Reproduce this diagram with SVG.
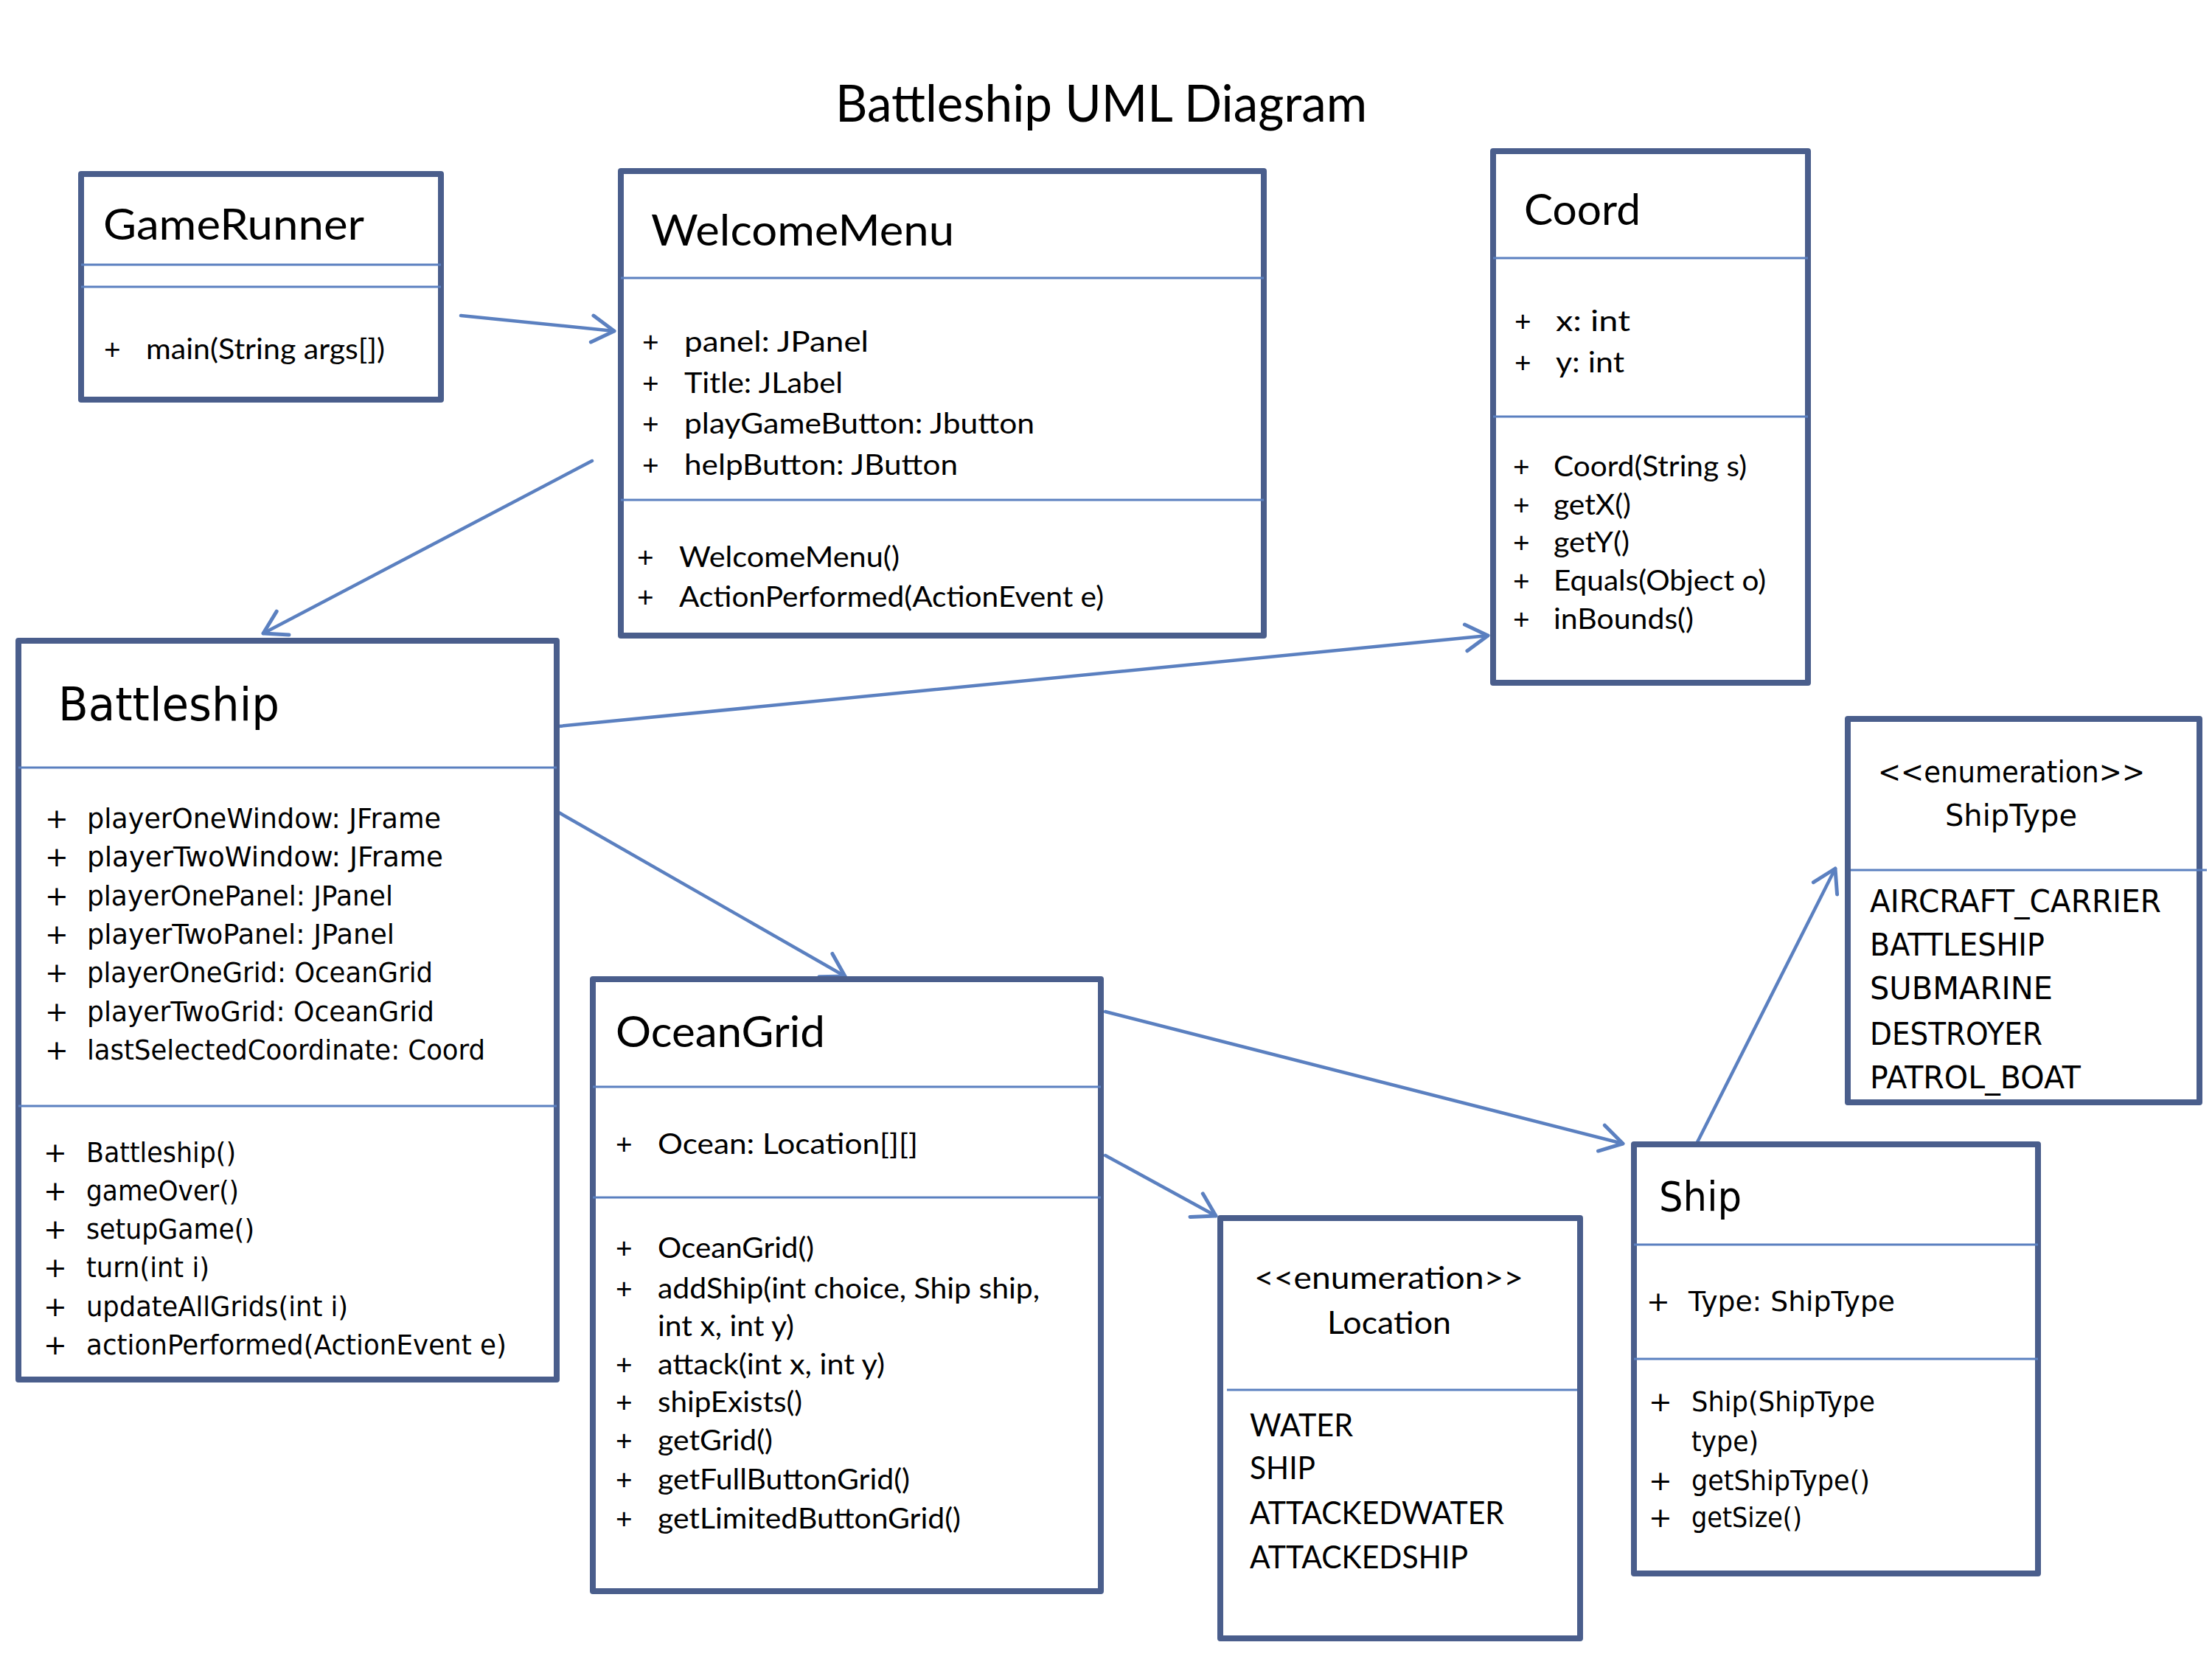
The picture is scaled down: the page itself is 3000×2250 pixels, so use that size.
<svg xmlns="http://www.w3.org/2000/svg" width="3000" height="2250" viewBox="0 0 3000 2250">
  <defs>
    <style>
      .box { fill: #ffffff; stroke: #4A5E8C; stroke-width: 8; stroke-linejoin: round; }
      .div { stroke: #5B80C0; stroke-width: 3; fill: none; }
      .conn { stroke: #5B80C0; stroke-width: 4.5; fill: none; stroke-linecap: round; marker-end: url(#arr); }
      .c { font-family: Lato, 'Open Sans', 'Liberation Sans', sans-serif; fill: #000; font-size: 39px; }
      .ct { font-family: Lato, 'Open Sans', 'Liberation Sans', sans-serif; fill: #000; font-size: 58px; }
      .ce { font-family: Lato, 'Open Sans', 'Liberation Sans', sans-serif; fill: #000; font-size: 42px; }
      .v { font-family: 'DejaVu Sans', 'DejaVu Sans Condensed', sans-serif; fill: #000; font-size: 38px; }
      .vt { font-family: 'DejaVu Sans', 'DejaVu Sans Condensed', sans-serif; fill: #000; font-size: 63px; }
      .ve { font-family: 'DejaVu Sans', 'DejaVu Sans Condensed', sans-serif; fill: #000; font-size: 43px; }
    </style>
    <marker id="arr" markerUnits="userSpaceOnUse" markerWidth="80" markerHeight="80" refX="40" refY="40" orient="auto" overflow="visible">
      <path d="M10,22 L40,40 L10,58" fill="none" stroke="#5B80C0" stroke-width="5" stroke-linecap="round" stroke-linejoin="round"/>
    </marker>
  </defs>

  <rect x="0" y="0" width="3000" height="2250" fill="#ffffff"/>

  <text id="diagram-title" x="1133" y="165" font-family="Lato, 'Open Sans', sans-serif" font-size="70" textLength="721" lengthAdjust="spacingAndGlyphs">Battleship UML Diagram</text>

  <g id="connectors">
    <line class="conn" x1="625" y1="428" x2="833" y2="449"/>
    <line class="conn" x1="803" y1="625" x2="357" y2="859"/>
    <line class="conn" x1="758" y1="985" x2="2018" y2="862"/>
    <line class="conn" x1="758" y1="1102" x2="1146" y2="1324"/>
    <line class="conn" x1="1499" y1="1567" x2="1649" y2="1649"/>
    <line class="conn" x1="1499" y1="1372" x2="2201" y2="1551"/>
    <line class="conn" x1="2301" y1="1551" x2="2489" y2="1178"/>
  </g>

  <g id="GameRunner">
    <rect class="box" x="110" y="236" width="488" height="306"/>
    <line class="div" x1="110" y1="359" x2="598" y2="359"/>
    <line class="div" x1="110" y1="389" x2="598" y2="389"/>
    <text class="ct" x="140" y="325" textLength="354" lengthAdjust="spacingAndGlyphs">GameRunner</text>
    <text class="c" x="141" y="487">+</text>
    <text class="c" x="198" y="487" textLength="324" lengthAdjust="spacingAndGlyphs">main(String args[])</text>
  </g>

  <g id="WelcomeMenu">
    <rect class="box" x="842" y="232" width="872" height="630"/>
    <line class="div" x1="842" y1="377" x2="1714" y2="377"/>
    <line class="div" x1="842" y1="678" x2="1714" y2="678"/>
    <text class="ct" x="883" y="333" textLength="411" lengthAdjust="spacingAndGlyphs">WelcomeMenu</text>
    <text class="c" x="871" y="477">+</text>
    <text class="c" x="928" y="477" textLength="250" lengthAdjust="spacingAndGlyphs">panel:  JPanel</text>
    <text class="c" x="871" y="533">+</text>
    <text class="c" x="928" y="533" textLength="215" lengthAdjust="spacingAndGlyphs">Title: JLabel</text>
    <text class="c" x="871" y="588">+</text>
    <text class="c" x="928" y="588" textLength="475" lengthAdjust="spacingAndGlyphs">playGameButton: Jbutton</text>
    <text class="c" x="871" y="644">+</text>
    <text class="c" x="928" y="644" textLength="371" lengthAdjust="spacingAndGlyphs">helpButton: JButton</text>
    <text class="c" x="864" y="769">+</text>
    <text class="c" x="921" y="769" textLength="299" lengthAdjust="spacingAndGlyphs">WelcomeMenu()</text>
    <text class="c" x="864" y="823">+</text>
    <text class="c" x="921" y="823" textLength="576" lengthAdjust="spacingAndGlyphs">ActionPerformed(ActionEvent e)</text>
  </g>

  <g id="Coord">
    <rect class="box" x="2025" y="205" width="427" height="721"/>
    <line class="div" x1="2025" y1="350" x2="2452" y2="350"/>
    <line class="div" x1="2025" y1="565" x2="2452" y2="565"/>
    <text class="ct" x="2067" y="305" textLength="158" lengthAdjust="spacingAndGlyphs">Coord</text>
    <text class="c" x="2054" y="449">+</text>
    <text class="c" x="2110" y="449" textLength="101" lengthAdjust="spacingAndGlyphs">x:  int</text>
    <text class="c" x="2054" y="505">+</text>
    <text class="c" x="2110" y="505" textLength="93" lengthAdjust="spacingAndGlyphs">y: int</text>
    <text class="c" x="2052" y="646">+</text>
    <text class="c" x="2107" y="646" textLength="262" lengthAdjust="spacingAndGlyphs">Coord(String s)</text>
    <text class="c" x="2052" y="698">+</text>
    <text class="c" x="2107" y="698" textLength="105" lengthAdjust="spacingAndGlyphs">getX()</text>
    <text class="c" x="2052" y="749">+</text>
    <text class="c" x="2107" y="749" textLength="103" lengthAdjust="spacingAndGlyphs">getY()</text>
    <text class="c" x="2052" y="801">+</text>
    <text class="c" x="2107" y="801" textLength="288" lengthAdjust="spacingAndGlyphs">Equals(Object o)</text>
    <text class="c" x="2052" y="853">+</text>
    <text class="c" x="2107" y="853" textLength="190" lengthAdjust="spacingAndGlyphs">inBounds()</text>
  </g>

  <g id="Battleship">
    <rect class="box" x="25" y="869" width="730" height="1002"/>
    <line class="div" x1="25" y1="1041" x2="755" y2="1041"/>
    <line class="div" x1="25" y1="1500" x2="755" y2="1500"/>
    <text class="vt" x="79" y="977" textLength="300" lengthAdjust="spacingAndGlyphs">Battleship</text>
    <text class="v" x="61" y="1123">+</text>
    <text class="v" x="118" y="1123" textLength="480" lengthAdjust="spacingAndGlyphs">playerOneWindow: JFrame</text>
    <text class="v" x="61" y="1175">+</text>
    <text class="v" x="118" y="1175" textLength="483" lengthAdjust="spacingAndGlyphs">playerTwoWindow: JFrame</text>
    <text class="v" x="61" y="1228">+</text>
    <text class="v" x="118" y="1228" textLength="415" lengthAdjust="spacingAndGlyphs">playerOnePanel: JPanel</text>
    <text class="v" x="61" y="1280">+</text>
    <text class="v" x="118" y="1280" textLength="417" lengthAdjust="spacingAndGlyphs">playerTwoPanel: JPanel</text>
    <text class="v" x="61" y="1332">+</text>
    <text class="v" x="118" y="1332" textLength="469" lengthAdjust="spacingAndGlyphs">playerOneGrid: OceanGrid</text>
    <text class="v" x="61" y="1385">+</text>
    <text class="v" x="118" y="1385" textLength="471" lengthAdjust="spacingAndGlyphs">playerTwoGrid: OceanGrid</text>
    <text class="v" x="61" y="1437">+</text>
    <text class="v" x="118" y="1437" textLength="540" lengthAdjust="spacingAndGlyphs">lastSelectedCoordinate: Coord</text>
    <text class="v" x="59" y="1576">+</text>
    <text class="v" x="117" y="1576" textLength="203" lengthAdjust="spacingAndGlyphs">Battleship()</text>
    <text class="v" x="59" y="1628">+</text>
    <text class="v" x="117" y="1628" textLength="207" lengthAdjust="spacingAndGlyphs">gameOver()</text>
    <text class="v" x="59" y="1680">+</text>
    <text class="v" x="117" y="1680" textLength="228" lengthAdjust="spacingAndGlyphs">setupGame()</text>
    <text class="v" x="59" y="1732">+</text>
    <text class="v" x="117" y="1732" textLength="167" lengthAdjust="spacingAndGlyphs">turn(int i)</text>
    <text class="v" x="59" y="1785">+</text>
    <text class="v" x="117" y="1785" textLength="355" lengthAdjust="spacingAndGlyphs">updateAllGrids(int i)</text>
    <text class="v" x="59" y="1837">+</text>
    <text class="v" x="117" y="1837" textLength="570" lengthAdjust="spacingAndGlyphs">actionPerformed(ActionEvent e)</text>
  </g>

  <g id="OceanGrid">
    <rect class="box" x="804" y="1328" width="689" height="830"/>
    <line class="div" x1="804" y1="1474" x2="1493" y2="1474"/>
    <line class="div" x1="804" y1="1624" x2="1493" y2="1624"/>
    <text class="ct" x="835" y="1420" textLength="284" lengthAdjust="spacingAndGlyphs">OceanGrid</text>
    <text class="c" x="835" y="1565">+</text>
    <text class="c" x="892" y="1565" textLength="353" lengthAdjust="spacingAndGlyphs">Ocean: Location[][]</text>
    <text class="c" x="835" y="1706">+</text>
    <text class="c" x="892" y="1706" textLength="212" lengthAdjust="spacingAndGlyphs">OceanGrid()</text>
    <text class="c" x="835" y="1761">+</text>
    <text class="c" x="892" y="1761" textLength="518" lengthAdjust="spacingAndGlyphs">addShip(int choice, Ship ship,</text>
    <text class="c" x="892" y="1812" textLength="185" lengthAdjust="spacingAndGlyphs">int x, int y)</text>
    <text class="c" x="835" y="1864">+</text>
    <text class="c" x="892" y="1864" textLength="308" lengthAdjust="spacingAndGlyphs">attack(int x, int y)</text>
    <text class="c" x="835" y="1915">+</text>
    <text class="c" x="892" y="1915" textLength="196" lengthAdjust="spacingAndGlyphs">shipExists()</text>
    <text class="c" x="835" y="1967">+</text>
    <text class="c" x="892" y="1967" textLength="156" lengthAdjust="spacingAndGlyphs">getGrid()</text>
    <text class="c" x="835" y="2020">+</text>
    <text class="c" x="892" y="2020" textLength="342" lengthAdjust="spacingAndGlyphs">getFullButtonGrid()</text>
    <text class="c" x="835" y="2073">+</text>
    <text class="c" x="892" y="2073" textLength="411" lengthAdjust="spacingAndGlyphs">getLimitedButtonGrid()</text>
  </g>

  <g id="Location">
    <rect class="box" x="1655" y="1652" width="488" height="570"/>
    <line class="div" x1="1664" y1="1885" x2="2139" y2="1885"/>
    <text class="ce" x="1701" y="1748" textLength="365" lengthAdjust="spacingAndGlyphs">&lt;&lt;enumeration&gt;&gt;</text>
    <text class="ce" x="1800" y="1809" textLength="168" lengthAdjust="spacingAndGlyphs">Location</text>
    <text class="ce" x="1695" y="1948" textLength="140" lengthAdjust="spacingAndGlyphs">WATER</text>
    <text class="ce" x="1695" y="2006" textLength="89" lengthAdjust="spacingAndGlyphs">SHIP</text>
    <text class="ce" x="1695" y="2067" textLength="345" lengthAdjust="spacingAndGlyphs">ATTACKEDWATER</text>
    <text class="ce" x="1695" y="2127" textLength="296" lengthAdjust="spacingAndGlyphs">ATTACKEDSHIP</text>
  </g>

  <g id="Ship">
    <rect class="box" x="2216" y="1552" width="548" height="582"/>
    <line class="div" x1="2216" y1="1688" x2="2764" y2="1688"/>
    <line class="div" x1="2216" y1="1843" x2="2764" y2="1843"/>
    <text class="vt" x="2250" y="1642" style="font-size:56px" textLength="112" lengthAdjust="spacingAndGlyphs">Ship</text>
    <text class="v" x="2233" y="1778">+</text>
    <text class="v" x="2290" y="1778" textLength="280" lengthAdjust="spacingAndGlyphs">Type: ShipType</text>
    <text class="v" x="2236" y="1914">+</text>
    <text class="v" x="2294" y="1914" textLength="249" lengthAdjust="spacingAndGlyphs">Ship(ShipType</text>
    <text class="v" x="2294" y="1968" textLength="91" lengthAdjust="spacingAndGlyphs">type)</text>
    <text class="v" x="2236" y="2021">+</text>
    <text class="v" x="2294" y="2021" textLength="242" lengthAdjust="spacingAndGlyphs">getShipType()</text>
    <text class="v" x="2236" y="2071">+</text>
    <text class="v" x="2294" y="2071" textLength="150" lengthAdjust="spacingAndGlyphs">getSize()</text>
  </g>

  <g id="ShipType">
    <rect class="box" x="2506" y="975" width="477" height="520"/>
    <line class="div" x1="2510" y1="1180" x2="2993" y2="1180"/>
    <text class="ve" x="2547" y="1061" style="font-size:41px" textLength="362" lengthAdjust="spacingAndGlyphs">&lt;&lt;enumeration&gt;&gt;</text>
    <text class="ve" x="2638" y="1120" style="font-size:41px" textLength="179" lengthAdjust="spacingAndGlyphs">ShipType</text>
    <text class="ve" x="2536" y="1237" textLength="395" lengthAdjust="spacingAndGlyphs">AIRCRAFT_CARRIER</text>
    <text class="ve" x="2536" y="1296" textLength="237" lengthAdjust="spacingAndGlyphs">BATTLESHIP</text>
    <text class="ve" x="2536" y="1355" textLength="248" lengthAdjust="spacingAndGlyphs">SUBMARINE</text>
    <text class="ve" x="2536" y="1417" textLength="234" lengthAdjust="spacingAndGlyphs">DESTROYER</text>
    <text class="ve" x="2536" y="1476" textLength="286" lengthAdjust="spacingAndGlyphs">PATROL_BOAT</text>
  </g>
</svg>
